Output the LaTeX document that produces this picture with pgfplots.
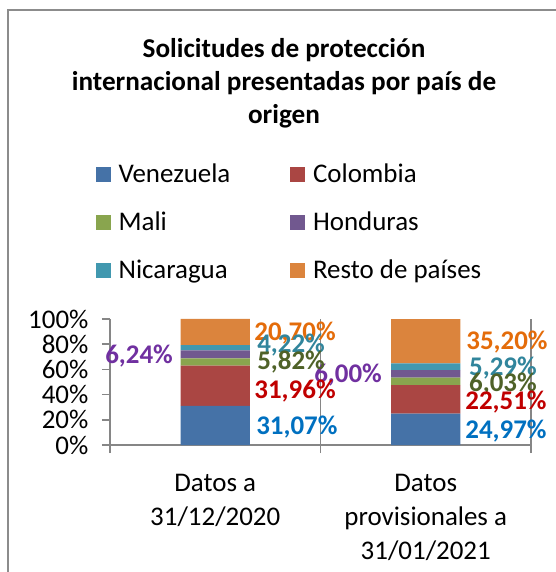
\documentclass[border=0pt]{standalone}
\usepackage{pgfplots}
\pgfplotsset{compat=1.18}
\usepackage{fontspec}
\setmainfont{Carlito}
\definecolor{cVen}{HTML}{4572A7}
\definecolor{cCol}{HTML}{AA4643}
\definecolor{cMal}{HTML}{89A54E}
\definecolor{cHon}{HTML}{71588F}
\definecolor{cNic}{HTML}{4198AF}
\definecolor{cRes}{HTML}{DB843D}
\definecolor{lVen}{HTML}{0070C0}
\definecolor{lCol}{HTML}{C00000}
\definecolor{lMal}{HTML}{4F6228}
\definecolor{lHon}{HTML}{7030A0}
\definecolor{lNic}{HTML}{31859C}
\definecolor{lRes}{HTML}{E46C0A}
\definecolor{gridgray}{HTML}{868686}
\definecolor{framegray}{HTML}{8C8C8C}
\newcommand{\bigf}{\fontsize{20.2}{25}\selectfont}
\newcommand{\titf}{\fontsize{20.4}{24.75}\selectfont}
\tikzset{dl/.style={font=\bigf\bfseries, inner sep=0pt}}
\begin{document}
\begin{tikzpicture}
\path[use as bounding box] (0,0) rectangle (417pt,-429pt);
\draw[framegray, line width=1.1pt] (6pt,-429pt) -- (6pt,-7.5pt) -- (417pt,-7.5pt);
\node[font=\titf\bfseries, align=center] at (213pt,-62.5pt)
  {Solicitudes de protección\\internacional presentadas por país de\\origen};
\begin{axis}[
  at={(82.5pt,-333.75pt)}, anchor=south west,
  scale only axis, width=315.75pt, height=94.5pt,
  ybar stacked, bar width=0.33,
  xmin=-0.5, xmax=1.5, ymin=0, ymax=100,
  axis x line=bottom, axis y line=left,
  axis line style={-, draw=gridgray, line width=1.2pt},
  xtick={-0.5,0.5,1.5}, xticklabels={},
  xmajorgrids, grid style={draw=gridgray, line width=1.2pt},
  tick align=outside, major tick length=6pt,
  tick style={draw=gridgray, line width=1.2pt},
  extra x ticks={0,1},
  extra x tick labels={{Datos a\\31/12/2020},{Datos\\provisionales a\\31/01/2021}},
  extra x tick style={major tick length=0pt, xmajorgrids=false,
     xticklabel style={align=center, font=\fontsize{20.2}{25.5}\selectfont, yshift=-18pt}},
  ytick={0,20,40,60,80,100},
  yticklabels={0\%,20\%,40\%,60\%,80\%,100\%},
  yticklabel style={font=\bigf, inner sep=0pt, xshift=-10pt},
  /pgf/number format/assume math mode=true,
  legend columns=2,
  legend cell align=left,
  legend style={at={(axis description cs:-0.034,2.255)}, anchor=north west,
     draw=none, fill=none, inner sep=0pt, font=\bigf, row sep=16.5pt},
  /tikz/every even column/.append style={column sep=43pt},
  legend image code/.code={\fill[#1] (0pt,-5.6pt) rectangle (11.25pt,5.6pt); \path (15pt,0pt);},
  clip=false,
]
\addplot[fill=cVen, draw=none] coordinates {(0,31.07) (1,24.97)};
\addplot[fill=cCol, draw=none] coordinates {(0,31.96) (1,22.51)};
\addplot[fill=cMal, draw=none] coordinates {(0,5.82) (1,6.03)};
\addplot[fill=cHon, draw=none] coordinates {(0,6.24) (1,6.00)};
\addplot[fill=cNic, draw=none] coordinates {(0,4.22) (1,5.29)};
\addplot[fill=cRes, draw=none] coordinates {(0,20.70) (1,35.20)};
\legend{Venezuela,Colombia,Mali,Honduras,Nicaragua,Resto de países}
\node[dl, text=lVen] at (axis cs:0.388,14.3) {31,07\%};
\node[dl, text=lCol] at (axis cs:0.379,42.9) {31,96\%};
\node[dl, text=lMal] at (axis cs:0.360,65.9) {5,82\%};
\node[dl, text=lHon] at (axis cs:-0.362,70.6) {6,24\%};
\node[dl, text=lNic] at (axis cs:0.360,79.4) {4,22\%};
\node[dl, text=lRes] at (axis cs:0.379,88.9) {20,70\%};
\node[dl, text=lVen] at (axis cs:1.381,11.1) {24,97\%};
\node[dl, text=lCol] at (axis cs:1.381,34.1) {22,51\%};
\node[dl, text=lMal] at (axis cs:1.367,48.4) {6,03\%};
\node[dl, text=lHon] at (axis cs:0.631,55.6) {6,00\%};
\node[dl, text=lNic] at (axis cs:1.367,61.1) {5,29\%};
\node[dl, text=lRes] at (axis cs:1.386,81.7) {35,20\%};
\end{axis}
\end{tikzpicture}
\end{document}
